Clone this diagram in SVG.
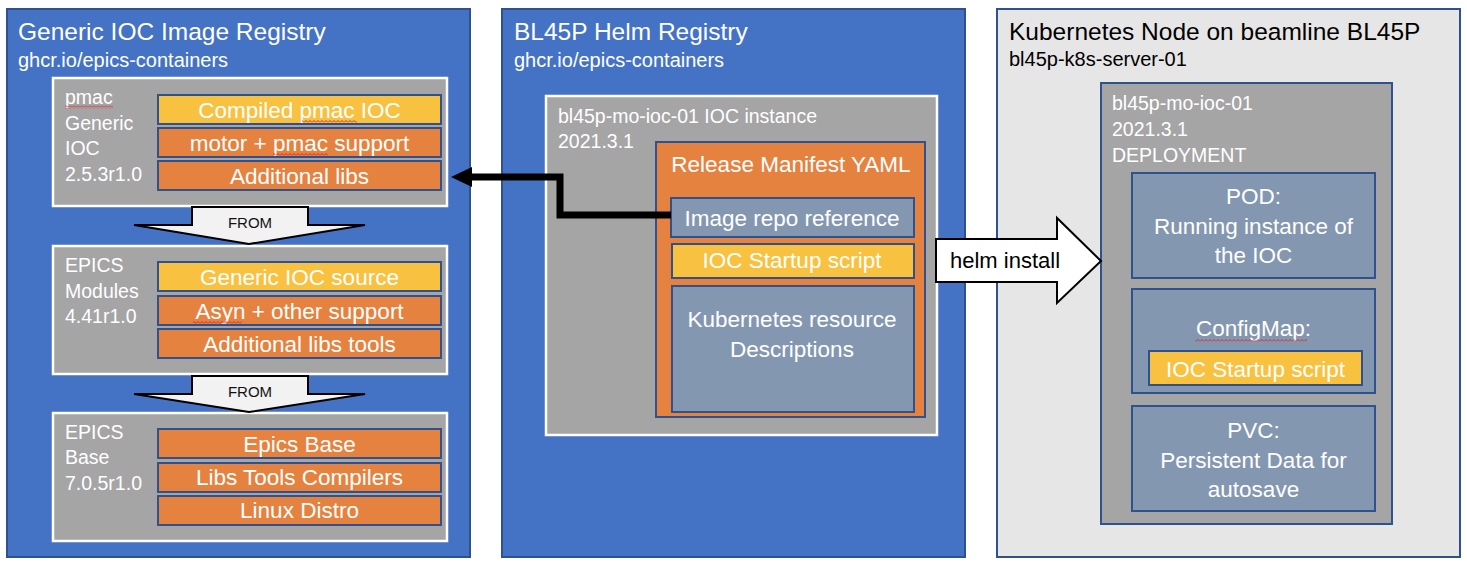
<svg xmlns="http://www.w3.org/2000/svg" width="1467" height="566" viewBox="0 0 1467 566">
  <defs>
    <style>
      text { font-family: "Liberation Sans", Arial, sans-serif; }
      .panel { fill: #4472C4; stroke: #2F528F; stroke-width: 2; }
      .panel-light { fill: #E7E6E6; stroke: #2F528F; stroke-width: 2; }
      .gray-w { fill: #A5A5A5; stroke: #FFFFFF; stroke-width: 2.5; }
      .gray-b { fill: #A5A5A5; stroke: #2F528F; stroke-width: 2; }
      .orange { fill: #E5823F; stroke: #2F528F; stroke-width: 2; }
      .yellow { fill: #F9C140; stroke: #2F528F; stroke-width: 2; }
      .bluegray { fill: #8497B0; stroke: #2F528F; stroke-width: 2; }
      .title { font-size: 24.5px; fill: #FFFFFF; }
      .sub { font-size: 20px; fill: #FFFFFF; }
      .title-k { font-size: 24.5px; fill: #000000; }
      .sub-k { font-size: 20px; fill: #000000; }
      .lbl { font-size: 19.5px; fill: #FFFFFF; }
      .bar { font-size: 22.5px; fill: #FFFFFF; text-anchor: middle; }
      .from { fill: #F2F2F2; stroke: #000000; stroke-width: 2; stroke-linejoin: miter; }
      .from-t { font-size: 15px; fill: #111111; text-anchor: middle; }
      .block { fill: #FFFFFF; stroke: #000000; stroke-width: 2; }
      .block-t { font-size: 22px; fill: #000000; }
      .link { fill: none; stroke: #000000; stroke-width: 7; }
    </style>
    <pattern id="squiggle" patternUnits="userSpaceOnUse" width="4" height="3">
      <path d="M0,2.5 L2,0.5 L4,2.5" fill="none" stroke="#E02424" stroke-width="0.9"/>
    </pattern>
    <marker id="head" markerUnits="userSpaceOnUse" markerWidth="22" markerHeight="22" refX="0" refY="10" orient="auto" viewBox="0 0 22 20">
      <path d="M0,0 L21,10 L0,20 Z" fill="#000000"/>
    </marker>
  </defs>

  <rect width="1467" height="566" fill="#FFFFFF"/>

  <!-- Panel 1: Generic IOC Image Registry -->
  <g id="panel-generic-ioc-registry">
    <rect class="panel" x="7" y="9" width="463" height="548"/>
    <text class="title" x="18" y="40">Generic IOC Image Registry</text>
    <text class="sub" x="18" y="66.5">ghcr.io/epics-containers</text>
  </g>

  <g id="image-pmac">
    <rect class="gray-w" x="53" y="78" width="394" height="128"/>
    <text class="lbl" x="65" y="104">pmac</text>
    <text class="lbl" x="65" y="130">Generic</text>
    <text class="lbl" x="65" y="155">IOC</text>
    <text class="lbl" x="65" y="181">2.5.3r1.0</text>
    <rect x="65" y="105.5" width="48" height="3" fill="url(#squiggle)"/>
    <rect class="yellow" x="158" y="95" width="283" height="29"/>
    <text class="bar" x="299.5" y="118">Compiled pmac IOC</text>
    <rect x="302" y="120" width="55" height="3" fill="url(#squiggle)"/>
    <rect class="orange" x="158" y="128" width="283" height="29"/>
    <text class="bar" x="299.5" y="151">motor + pmac support</text>
    <rect x="273" y="153" width="55" height="3" fill="url(#squiggle)"/>
    <rect class="orange" x="158" y="161" width="283" height="29"/>
    <text class="bar" x="299.5" y="184">Additional libs</text>
  </g>

  <g id="image-epics-modules">
    <rect class="gray-w" x="53" y="246" width="394" height="128"/>
    <text class="lbl" x="65" y="272">EPICS</text>
    <text class="lbl" x="65" y="298">Modules</text>
    <text class="lbl" x="65" y="323">4.41r1.0</text>
    <rect class="yellow" x="158" y="262" width="283" height="29"/>
    <text class="bar" x="299.5" y="285">Generic IOC source</text>
    <rect class="orange" x="158" y="296" width="283" height="29"/>
    <text class="bar" x="299.5" y="319">Asyn + other support</text>
    <rect x="193" y="321" width="49" height="3" fill="url(#squiggle)"/>
    <rect class="orange" x="158" y="329" width="283" height="29"/>
    <text class="bar" x="299.5" y="352">Additional libs tools</text>
  </g>

  <g id="image-epics-base">
    <rect class="gray-w" x="53" y="413" width="394" height="128"/>
    <text class="lbl" x="65" y="439">EPICS</text>
    <text class="lbl" x="65" y="464">Base</text>
    <text class="lbl" x="65" y="490">7.0.5r1.0</text>
    <rect class="orange" x="158" y="429" width="283" height="29"/>
    <text class="bar" x="299.5" y="452">Epics Base</text>
    <rect class="orange" x="158" y="463" width="283" height="29"/>
    <text class="bar" x="299.5" y="485">Libs Tools Compilers</text>
    <rect class="orange" x="158" y="496" width="283" height="29"/>
    <text class="bar" x="299.5" y="518">Linux Distro</text>
  </g>

  <!-- Panel 2: BL45P Helm Registry -->
  <g id="panel-helm-registry">
    <rect class="panel" x="502" y="9" width="463" height="548"/>
    <text class="title" x="514" y="40">BL45P Helm Registry</text>
    <text class="sub" x="514" y="66.5">ghcr.io/epics-containers</text>
  </g>

  <g id="ioc-instance">
    <rect class="gray-w" x="546" y="96" width="391" height="339"/>
    <text class="lbl" x="558" y="123">bl45p-mo-ioc-01 IOC instance</text>
    <text class="lbl" x="558" y="148">2021.3.1</text>
  </g>

  <g id="release-manifest">
    <rect class="orange" x="656" y="142" width="269" height="275"/>
    <text class="bar" x="791" y="172">Release Manifest YAML</text>
  </g>

  <g id="image-repo-reference">
    <rect class="bluegray" x="671" y="198" width="243" height="39"/>
    <text class="bar" x="792" y="226">Image repo reference</text>
  </g>

  <g id="manifest-startup-script">
    <rect class="yellow" x="672" y="244" width="242" height="34"/>
    <text class="bar" x="792" y="268">IOC Startup script</text>
  </g>

  <g id="k8s-resource-descriptions">
    <rect class="bluegray" x="672" y="286" width="242" height="126"/>
    <text class="bar" x="792" y="327">Kubernetes resource</text>
    <text class="bar" x="792" y="357">Descriptions</text>
  </g>

  <!-- Panel 3: Kubernetes Node -->
  <g id="panel-k8s-node">
    <rect class="panel-light" x="997" y="9" width="463" height="548"/>
    <text class="title-k" x="1009" y="40">Kubernetes Node on beamline BL45P</text>
    <text class="sub-k" x="1009" y="66">bl45p-k8s-server-01</text>
  </g>

  <g id="deployment">
    <rect class="gray-b" x="1101" y="83" width="291" height="441"/>
    <text class="lbl" x="1112" y="110">bl45p-mo-ioc-01</text>
    <text class="lbl" x="1112" y="136">2021.3.1</text>
    <text class="lbl" x="1112" y="162">DEPLOYMENT</text>
  </g>

  <g id="pod">
    <rect class="bluegray" x="1132" y="173" width="243" height="105"/>
    <text class="bar" x="1253.5" y="204">POD:</text>
    <text class="bar" x="1253.5" y="234">Running instance of</text>
    <text class="bar" x="1253.5" y="263">the IOC</text>
  </g>

  <g id="configmap">
    <rect class="bluegray" x="1132" y="289" width="243" height="104"/>
    <text class="bar" x="1253.5" y="336">ConfigMap:</text>
    <rect x="1195" y="339" width="112" height="3" fill="url(#squiggle)"/>
    <rect class="yellow" x="1149" y="351" width="213" height="34"/>
    <text class="bar" x="1255.5" y="377">IOC Startup script</text>
  </g>

  <g id="pvc">
    <rect class="bluegray" x="1132" y="406" width="243" height="105"/>
    <text class="bar" x="1253.5" y="438">PVC:</text>
    <text class="bar" x="1253.5" y="468">Persistent Data for</text>
    <text class="bar" x="1253.5" y="497">autosave</text>
  </g>

  <!-- Connectors -->
  <g id="connectors">
    <g id="from-modules-to-pmac">
      <polygon class="from" points="192,207 308,207 308,225 365,225 249,244 134,225 192,225"/>
      <text class="from-t" x="250" y="228">FROM</text>
    </g>
    <g id="from-base-to-modules">
      <polygon class="from" points="192,376 308,376 308,394 365,394 249,412 134,394 192,394"/>
      <text class="from-t" x="250" y="397">FROM</text>
    </g>
    <path id="image-ref-link" class="link" d="M671,215 L560,215 L560,177 L472,177" marker-end="url(#head)"/>
    <g id="helm-install">
      <polygon class="block" points="936,239 1057,239 1057,218 1101,261 1057,303 1057,282 936,282"/>
      <text class="block-t" x="950" y="268">helm install</text>
    </g>
  </g>
</svg>
